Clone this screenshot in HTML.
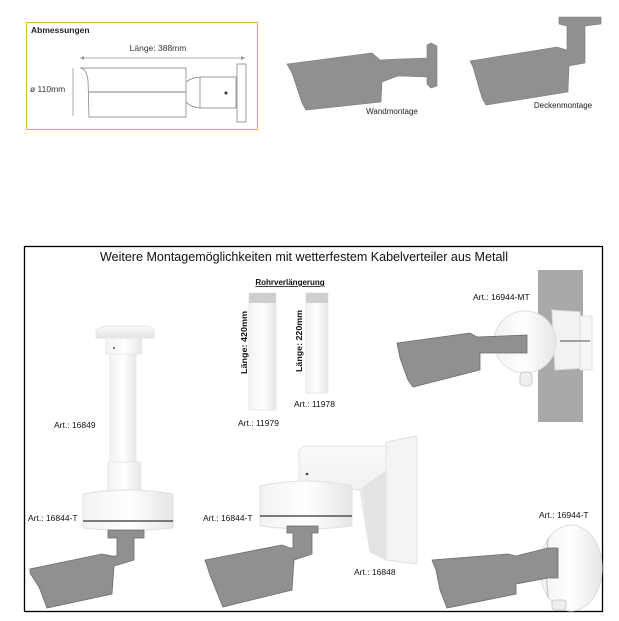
<!DOCTYPE html>
<html><head><meta charset="utf-8"><style>
html,body{margin:0;padding:0;background:#fff;}
svg{display:block;font-family:"Liberation Sans",Arial,sans-serif;}
</style></head><body>
<svg width="619" height="621" viewBox="0 0 619 621" xmlns="http://www.w3.org/2000/svg">
<defs>
<linearGradient id="wg" x1="0" x2="1" y1="0" y2="0"><stop offset="0" stop-color="#f2f2f2"/><stop offset="0.5" stop-color="#ffffff"/><stop offset="1" stop-color="#e6e6e6"/></linearGradient>
<linearGradient id="wv" x1="0" x2="0" y1="0" y2="1"><stop offset="0" stop-color="#fafafa"/><stop offset="1" stop-color="#e3e3e3"/></linearGradient>
</defs>
<rect x="26.5" y="22.5" width="231" height="107" fill="#fff" stroke="#e0b040" stroke-width="1"/>
<text x="31" y="33" font-size="8.5" font-weight="bold" fill="#222">Abmessungen</text>
<text x="158" y="51" font-size="8.5" text-anchor="middle" fill="#333">Länge: 388mm</text>
<line x1="80" y1="58" x2="245" y2="58" stroke="#999" stroke-width="0.8"/>
<path d="M80 58 l4 -2 v4z M245 58 l-4 -2 v4z" fill="#999"/>
<line x1="73" y1="68" x2="73" y2="116" stroke="#999" stroke-width="0.8"/>
<text x="30" y="92" font-size="8.5" fill="#333">ø 110mm</text>
<g fill="none" stroke="#777" stroke-width="0.7">
<path d="M80 68 Q86 68 88 80 L89 117 L186 117 L186 68 Z"/>
<line x1="89" y1="92" x2="186" y2="92" stroke="#555"/>
<path d="M186 82 Q192 77 202 77 L236 77 L236 108 L202 108 Q192 108 186 102"/>
<line x1="200" y1="77" x2="200" y2="108"/>
<rect x="237" y="64" width="9" height="58"/>
</g>
<circle cx="226" cy="93" r="1.5" fill="#333"/>
<path d="M287 64 L372 53 L380 60 L398 59 L427 58 L427 45 L431 43 L437 46 L437 86 L431 88 L427 84 L427 77 L398 76 L382 82 L381 102 L306 110 L302 103 L292 73 Z" fill="#909090" stroke="#7a7a7a" stroke-width="0.6"/>
<text x="392" y="114" font-size="8" text-anchor="middle" fill="#222">Wandmontage</text>
<path d="M559 17 L601 17 L601 24 L585 26 L585 63 L569 66 L568 92 L486 105 L482 98 L473 67 L470 61 L557 47 L567 50 L567 26 L559 24 Z" fill="#909090" stroke="#7a7a7a" stroke-width="0.6"/>
<text x="563" y="108" font-size="8" text-anchor="middle" fill="#222">Deckenmontage</text>

<rect x="24.5" y="246.5" width="578" height="365" fill="#fff" stroke="#000" stroke-width="1.3"/>
<text x="304" y="261" font-size="12.5" text-anchor="middle" fill="#111" textLength="408" lengthAdjust="spacingAndGlyphs">Weitere Montagemöglichkeiten mit wetterfestem Kabelverteiler aus Metall</text>
<text x="290" y="285" font-size="8" font-weight="bold" text-anchor="middle" fill="#111" text-decoration="underline">Rohrverlängerung</text>
<rect x="249" y="293" width="27" height="117" fill="url(#wg)" stroke="#e8e8e8"/>
<rect x="249" y="293" width="27" height="10" fill="#cfcfcf"/>
<rect x="306" y="293" width="22" height="100" fill="url(#wg)" stroke="#e8e8e8"/>
<rect x="306" y="293" width="22" height="10" fill="#cfcfcf"/>
<text transform="translate(247,374) rotate(-90)" font-size="8" font-weight="bold" fill="#111" textLength="63" lengthAdjust="spacingAndGlyphs">Länge: 420mm</text>
<text transform="translate(302,372) rotate(-90)" font-size="8" font-weight="bold" fill="#111" textLength="62" lengthAdjust="spacingAndGlyphs">Länge: 220mm</text>
<g font-size="8.5" fill="#111">
<text x="238" y="426">Art.: 11979</text>
<text x="294" y="407">Art.: 11978</text>
<text x="54" y="428">Art.: 16849</text>
<text x="28" y="521">Art.: 16844-T</text>
<text x="203" y="521">Art.: 16844-T</text>
<text x="354" y="575">Art.: 16848</text>
<text x="539" y="518">Art.: 16944-T</text>
<text x="473" y="300">Art.: 16944-MT</text>
</g>
<path d="M96 330 L104 326 L150 326 L154 330 L154 338 L96 338 Z" fill="url(#wv)" stroke="#e4e4e4"/>
<rect x="106" y="338" width="36" height="16" fill="url(#wg)" stroke="#e8e8e8"/>
<circle cx="114" cy="348" r="1" fill="#555"/>
<rect x="110" y="354" width="26" height="110" fill="url(#wg)" stroke="#e8e8e8"/>
<rect x="108" y="462" width="33" height="29" fill="url(#wg)" stroke="#e4e4e4"/>
<path d="M83 494 Q128 486 173 494 L173 528 Q128 533 83 528 Z" fill="url(#wg)" stroke="#e0e0e0"/>
<line x1="83" y1="521" x2="173" y2="521" stroke="#333" stroke-width="1.2"/>
<path d="M108 530 L144 530 L144 538 L134 538 L134 560 L114 566 L112 594 L47 608 L44 600 L39 587 L30 573 L30 569 L102 554 L112 556 L117 556 L117 538 L108 538 Z" fill="#909090" stroke="#6d6d6d" stroke-width="0.8"/>
<path d="M386 442 L417 436 L417 564 L386 560 Z" fill="#f4f4f4" stroke="#e2e2e2"/>
<path d="M299 450 L305 446 L386 446 L386 560 L370 552 L360 490 L312 484 L299 484 Z" fill="url(#wv)" stroke="#e4e4e4"/>
<path d="M362 488 L386 470 L386 558 L370 552 Z" fill="#e4e4e4"/>
<circle cx="307" cy="474" r="1.3" fill="#444"/>
<path d="M260 486 Q306 476 352 486 L352 526 Q306 532 260 526 Z" fill="url(#wg)" stroke="#e0e0e0"/>
<line x1="260" y1="516" x2="352" y2="516" stroke="#333" stroke-width="1.2"/>
<path d="M287 526 L318 526 L318 533 L312 533 L312 554 L294 560 L292 590 L223 607 L220 600 L210 575 L205 560 L282 545 L290 548 L293 548 L293 533 L287 533 Z" fill="#909090" stroke="#6d6d6d" stroke-width="0.8"/>
<rect x="538" y="270" width="45" height="152" fill="#a9a9a9"/>
<path d="M552 310 L580 312 L583 368 L555 370 Z" fill="#f2f2f2" stroke="#ddd"/>
<rect x="580" y="316" width="12" height="54" fill="#f6f6f6" stroke="#ddd"/>
<line x1="560" y1="341" x2="590" y2="341" stroke="#888" stroke-width="1.5"/>
<circle cx="525" cy="342" r="31" fill="url(#wg)" stroke="#ddd"/>
<rect x="520" y="372" width="12" height="14" rx="4" fill="#eee" stroke="#ccc"/>
<path d="M397 343 L470 333 L477 337 L527 335 L527 353 L480 353 L480 370 L413 387 L408 380 L400 358 Z" fill="#909090" stroke="#6d6d6d" stroke-width="0.8"/>
<ellipse cx="571" cy="568" rx="31" ry="43" fill="url(#wg)" stroke="#ddd"/>
<path d="M548 538 Q545 568 548 598" fill="none" stroke="#bbb"/>
<rect x="552" y="600" width="14" height="10" rx="3" fill="#eee" stroke="#ccc"/>
<path d="M432 560 L508 554 L516 556 L548 548 L558 548 L558 578 L548 578 L516 584 L516 594 L447 608 L440 590 L436 570 Z" fill="#909090" stroke="#6d6d6d" stroke-width="0.8"/>
</svg>
</body></html>
